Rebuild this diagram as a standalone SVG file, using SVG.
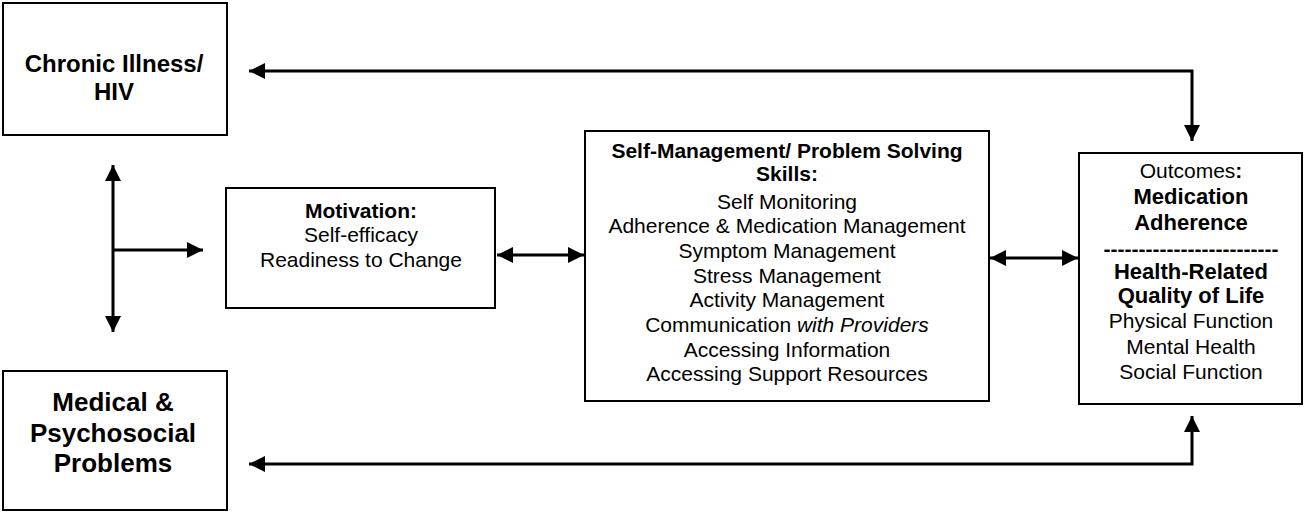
<svg xmlns="http://www.w3.org/2000/svg" width="1304" height="513" viewBox="0 0 1304 513">
<style>
.box{fill:#fff;stroke:#000;stroke-width:2}
.t{font-family:"Liberation Sans",Arial,sans-serif;font-size:21px;fill:#000;text-anchor:middle}
.b{font-weight:bold}
.i{font-style:italic}
.c{fill:none;stroke:#000;stroke-width:3}
</style>
<defs>
<marker id="ah" markerUnits="userSpaceOnUse" markerWidth="16" markerHeight="16" refX="16" refY="8" orient="auto-start-reverse" viewBox="0 0 16 16">
<path d="M0,0 L16,8 L0,16 z" fill="#000"/>
</marker>
</defs>
<rect width="1304" height="513" fill="#fff"/>
<g id="connectors">
<path class="c" d="M249,71 H1192 V141" marker-start="url(#ah)" marker-end="url(#ah)"/>
<path class="c" d="M249,464 H1192 V416" marker-start="url(#ah)" marker-end="url(#ah)"/>
<path class="c" d="M113,165 V332" marker-start="url(#ah)" marker-end="url(#ah)"/>
<path class="c" d="M113,250 H203" marker-end="url(#ah)"/>
<path class="c" d="M497,255 H584" marker-start="url(#ah)" marker-end="url(#ah)"/>
<path class="c" d="M990,258 H1078" marker-start="url(#ah)" marker-end="url(#ah)"/>
</g>
<g id="chronic">
<rect class="box" x="3" y="3" width="224" height="132"/>
<text class="t b" x="114" y="72" style="font-size:24px">Chronic Illness/</text>
<text class="t b" x="114" y="100" style="font-size:24px">HIV</text>
</g>
<g id="medical">
<rect class="box" x="3" y="371" width="224" height="139"/>
<text class="t b" x="113" y="411" style="font-size:26px">Medical &amp;</text>
<text class="t b" x="113" y="442" style="font-size:26px">Psychosocial</text>
<text class="t b" x="113" y="472" style="font-size:26px">Problems</text>
</g>
<g id="motivation">
<rect class="box" x="226" y="188" width="269" height="120"/>
<text class="t b" x="361" y="218">Motivation:</text>
<text class="t" x="361" y="242">Self-efficacy</text>
<text class="t" x="361" y="267">Readiness to Change</text>
</g>
<g id="selfmanagement">
<rect class="box" x="585" y="131" width="404" height="270"/>
<text class="t b" x="787" y="158">Self-Management/ Problem Solving</text>
<text class="t b" x="787" y="181">Skills:</text>
<text class="t" x="787" y="209">Self Monitoring</text>
<text class="t" x="787" y="233">Adherence &amp; Medication Management</text>
<text class="t" x="787" y="258">Symptom Management</text>
<text class="t" x="787" y="283">Stress Management</text>
<text class="t" x="787" y="307">Activity Management</text>
<text class="t" x="787" y="332">Communication <tspan class="i">with Providers</tspan></text>
<text class="t" x="787" y="357">Accessing Information</text>
<text class="t" x="787" y="381">Accessing Support Resources</text>
</g>
<g id="outcomes">
<rect class="box" x="1079" y="153" width="223" height="251"/>
<text class="t" x="1191" y="178">Outcomes<tspan class="b">:</tspan></text>
<text class="t b" x="1191" y="204" style="font-size:22px">Medication</text>
<text class="t b" x="1191" y="230" style="font-size:22px">Adherence</text>
<text class="t b" x="1191" y="256">-------------------------</text>
<text class="t b" x="1191" y="279" style="font-size:22px">Health-Related</text>
<text class="t b" x="1191" y="303" style="font-size:22px">Quality of Life</text>
<text class="t" x="1191" y="328">Physical Function</text>
<text class="t" x="1191" y="354">Mental Health</text>
<text class="t" x="1191" y="379">Social Function</text>
</g>
</svg>
